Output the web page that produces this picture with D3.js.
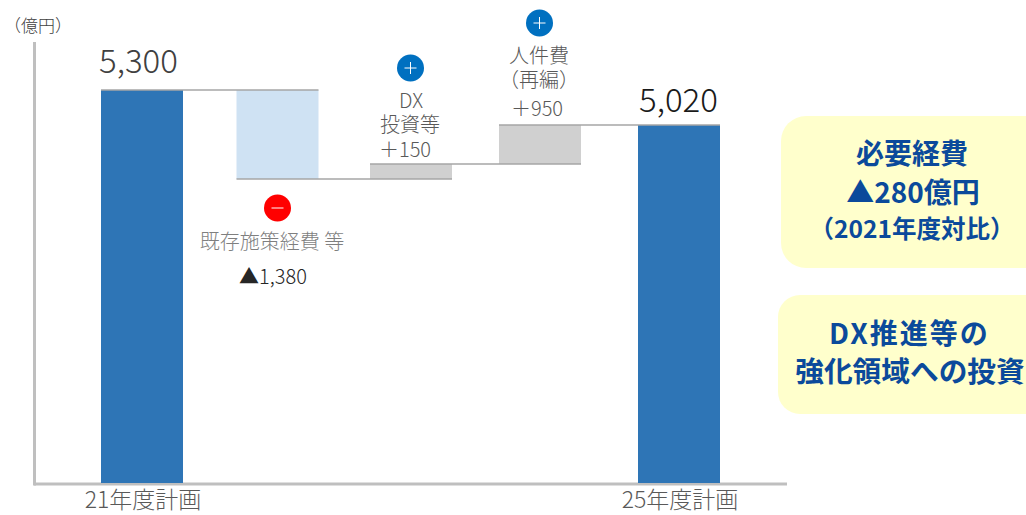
<!DOCTYPE html>
<meta charset="utf-8">
<style>
  html, body { margin: 0; padding: 0; background: #fff; overflow: hidden; }
  svg { display: block; }
  text { font-family: "Noto Sans CJK JP", "Noto Sans", sans-serif; }
</style>
<body>
<script src="https://d3js.org/d3.v7.min.js"></script>
<script>
// chart data
var categories = ["21年度計画", "既存施策経費", "DX投資等", "人件費", "25年度計画"];
var changes = [5300, -1380, 150, 950, 5020];
var barTypes = ["total", "down", "up", "up", "total"];
var valueLabels = ["5,300", "▲1,380", "＋150", "＋950", "5,020"];
var axisLabels = ["21年度計画", "25年度計画"];
var unitLabel = "（億円）";

// the source chart is not drawn to one scale: these are the levels it breaks at
var levels = [0, 3920, 4070, 5020, 5300];
var levelsY = [483, 179, 164, 125, 90];

var width = 1026, height = 515;
var barWidth = 82;

var x = d3.scaleOrdinal().domain(categories).range([142, 277.5, 411, 540, 679]),
    y = d3.scaleLinear().domain(levels).range(levelsY);

var colors = {total: "#2e75b6", down: "#cfe2f3", up: "#d0d0d0"};

// running totals for the waterfall
var running = 0;
var bars = categories.map(function(c, i) {
  var start, end;
  if (barTypes[i] == "total") {
    start = 0;
    end = changes[i];
    running = changes[i];
  } else {
    start = running;
    end = running + changes[i];
    running = end;
  }
  return {name: c, type: barTypes[i], start: start, end: end};
});

var svg = d3.select("body").append("svg")
  .attr("width", width)
  .attr("height", height);

// axes
svg.append("line").attr("x1", 34.5).attr("x2", 34.5).attr("y1", 42).attr("y2", 485.5)
  .attr("stroke", "#bfbfbf").attr("stroke-width", 3);
svg.append("line").attr("x1", 34).attr("x2", 787).attr("y1", 484).attr("y2", 484)
  .attr("stroke", "#bfbfbf").attr("stroke-width", 3);

// bars
svg.selectAll("rect.bar").data(bars).enter().append("rect")
  .attr("class", "bar")
  .attr("x", function(d) { return x(d.name) - barWidth / 2; })
  .attr("width", barWidth)
  .attr("y", function(d) { return y(Math.max(d.start, d.end)); })
  .attr("height", function(d) { return Math.abs(y(d.start) - y(d.end)); })
  .attr("fill", function(d) { return colors[d.type]; });

// connector lines between the steps
var links = bars.slice(0, -1).map(function(d, i) {
  return {from: d.name, to: bars[i + 1].name, level: d.end};
});
svg.selectAll("line.link").data(links).enter().append("line")
  .attr("class", "link")
  .attr("x1", function(d) { return x(d.from) - barWidth / 2; })
  .attr("x2", function(d) { return x(d.to) + barWidth / 2; })
  .attr("y1", function(d) { return y(d.level); })
  .attr("y2", function(d) { return y(d.level); })
  .attr("stroke", "#a6a6a6")
  .attr("stroke-width", 1.5);

// text helper
function label(t, px, py, size, color, weight) {
  return svg.append("text")
    .attr("x", px).attr("y", py)
    .attr("text-anchor", "middle")
    .attr("font-size", size)
    .attr("font-weight", weight || 300)
    .attr("fill", color)
    .text(t);
}

label(unitLabel, 38, 32, 17, "#404040");

label(valueLabels[0], 138.5, 73, 33, "#404040");
label(valueLabels[4], 678.5, 112, 33, "#1a1a1a");

label("既存施策経費 等", 272, 249, 20, "#7f7f7f");
label(valueLabels[1], 273, 284, 20, "#262626");

label("DX", 411, 108, 20, "#595959");
label("投資等", 410, 132, 20, "#595959");
label(valueLabels[2], 405, 157, 20, "#595959");

label("人件費", 539, 63, 20, "#595959");
label("（再編）", 539, 87, 20, "#595959");
label(valueLabels[3], 537, 116, 20, "#595959");

label(axisLabels[0], 143, 508, 23, "#595959");
label(axisLabels[1], 680, 508, 23, "#595959");

// plus / minus badges
var badges = [
  {cx: 277.5, cy: 208, color: "#ff0000", sign: "-"},
  {cx: 410.5, cy: 68, color: "#0070c0", sign: "+"},
  {cx: 539.5, cy: 23, color: "#0070c0", sign: "+"}
];
badges.forEach(function(b) {
  svg.append("circle").attr("cx", b.cx).attr("cy", b.cy).attr("r", 13.5).attr("fill", b.color);
  svg.append("line").attr("x1", b.cx - 6).attr("x2", b.cx + 6).attr("y1", b.cy).attr("y2", b.cy)
    .attr("stroke", "#fff").attr("stroke-width", 1);
  if (b.sign == "+") {
    svg.append("line").attr("x1", b.cx).attr("x2", b.cx).attr("y1", b.cy - 6).attr("y2", b.cy + 6)
      .attr("stroke", "#fff").attr("stroke-width", 1);
  }
});

// callout boxes on the right
svg.append("rect").attr("x", 781).attr("y", 116).attr("width", 280).attr("height", 152).attr("rx", 25)
  .attr("fill", "#ffffcc");
svg.append("rect").attr("x", 778).attr("y", 295).attr("width", 280).attr("height", 119).attr("rx", 22)
  .attr("fill", "#ffffcc");

label("必要経費", 912, 164, 28, "#0b4a9b", 700);
label("▲280億円", 913, 203, 28, "#0b4a9b", 700);
label("（2021年度対比）", 912, 238, 24.5, "#0b4a9b", 700);
label("DX推進等の", 909.5, 344, 28, "#0b4a9b", 700).attr("letter-spacing", 2);
label("強化領域への投資", 910, 382, 28.7, "#0b4a9b", 700);
</script>
</body>
